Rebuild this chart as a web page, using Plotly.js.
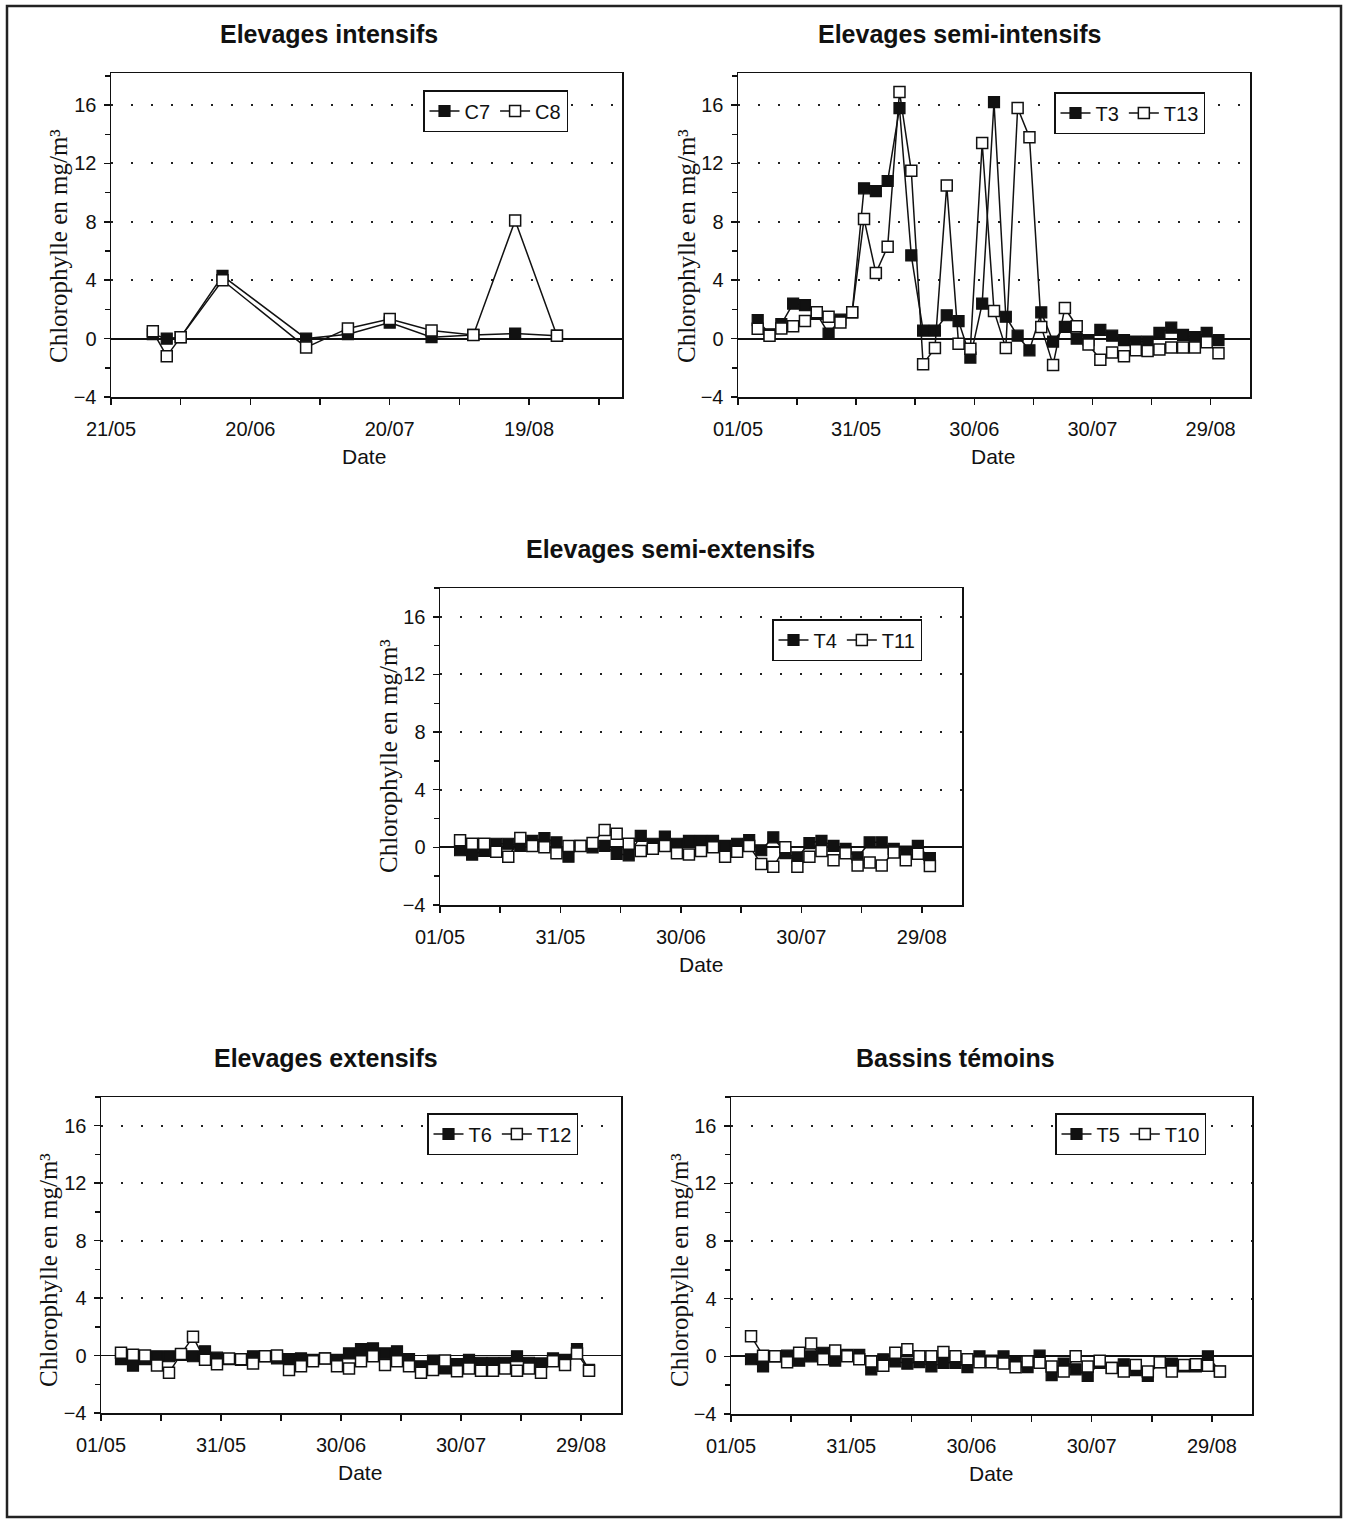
<!DOCTYPE html>
<html>
<head>
<meta charset="utf-8">
<script src="https://cdn.plot.ly/plotly-3.0.1.min.js"></script>
<style>html,body{margin:0;padding:0;background:#fff;}#chart{width:1348px;height:1520px;}</style>
</head>
<body>
<div id="chart"></div>
<script>
// ---------- DATA ----------
const panelTitles = ["Elevages intensifs", "Elevages semi-intensifs", "Elevages semi-extensifs", "Elevages extensifs", "Bassins témoins"];
const tickFormat = "%d/%m";

// Elevages intensifs
const datesIntensifs = ["1996-05-30","1996-06-02","1996-06-05","1996-06-14","1996-07-02","1996-07-11","1996-07-20","1996-07-29","1996-08-07","1996-08-16","1996-08-25"];
const C7 = [0.3, 0.0, 0.1, 4.3, 0.0, 0.3, 1.1, 0.1, 0.25, 0.35, 0.2];
const C8 = [0.5, -1.2, 0.1, 4.0, -0.6, 0.7, 1.35, 0.55, 0.25, 8.1, 0.2];

// sampling dates of the other ponds
const datesSuivi = ["1996-05-06","1996-05-09","1996-05-12","1996-05-15","1996-05-18","1996-05-21","1996-05-24","1996-05-27","1996-05-30",
  "1996-06-02","1996-06-05","1996-06-08","1996-06-11","1996-06-14","1996-06-17","1996-06-20","1996-06-23","1996-06-26","1996-06-29",
  "1996-07-02","1996-07-05","1996-07-08","1996-07-11","1996-07-14","1996-07-17","1996-07-20","1996-07-23","1996-07-26","1996-07-29",
  "1996-08-01","1996-08-04","1996-08-07","1996-08-10","1996-08-13","1996-08-16","1996-08-19","1996-08-22","1996-08-25","1996-08-28","1996-08-31"];

// Elevages semi-intensifs
const T3  = [1.27, 0.3, 1.0, 2.4, 2.3, 1.7, 0.35, 1.3, 1.8, 10.3, 10.1, 10.8, 15.8, 5.7, 0.55, 0.55, 1.6, 1.2, -1.3, 2.4,
             16.2, 1.5, 0.2, -0.8, 1.8, -0.2, 0.8, 0.0, -0.1, 0.6, 0.2, -0.1, -0.2, -0.2, 0.4, 0.75, 0.25, 0.1, 0.4, -0.1];
const T13 = [0.67, 0.2, 0.7, 0.85, 1.2, 1.8, 1.5, 1.1, 1.8, 8.2, 4.5, 6.3, 16.9, 11.5, -1.75, -0.65, 10.5, -0.35, -0.7, 13.4,
             1.9, -0.65, 15.8, 13.8, 0.8, -1.8, 2.1, 0.85, -0.4, -1.45, -0.95, -1.2, -0.8, -0.85, -0.75, -0.6, -0.6, -0.6, -0.25, -1.0];

// Elevages semi-extensifs
const T4  = [-0.2, -0.5, -0.25, 0.25, 0.25, 0.1, 0.45, 0.65, 0.35, -0.65, 0.1, 0.0, 0.1, -0.45, -0.55, 0.8, 0.25, 0.75, 0.25, 0.45,
             0.45, 0.45, 0.1, 0.25, 0.5, -0.2, 0.7, -0.4, -0.7, 0.3, 0.45, 0.1, -0.1, -0.7, 0.35, 0.35, -0.1, -0.3, 0.1, -0.75];
const T11 = [0.5, 0.25, 0.25, -0.3, -0.65, 0.65, 0.1, 0.0, -0.4, 0.1, 0.1, 0.3, 1.2, 0.95, 0.25, -0.25, -0.1, 0.1, -0.4, -0.5,
             -0.25, 0.0, -0.65, -0.3, 0.1, -1.15, -1.35, 0.0, -1.35, -0.65, -0.25, -0.9, -0.4, -1.25, -1.05, -1.25, -0.35, -0.9, -0.45, -1.3];

// Elevages extensifs
const T6  = [-0.25, -0.7, -0.25, -0.05, -0.05, 0.05, -0.05, 0.3, -0.15, -0.25, -0.3, -0.05, -0.05, -0.2, -0.25, -0.2, -0.3, -0.2, -0.3, 0.15,
             0.45, 0.5, 0.15, 0.3, -0.25, -0.75, -0.35, -0.9, -0.6, -0.3, -0.5, -0.5, -0.5, -0.05, -0.5, -0.55, -0.2, -0.3, 0.45, -1.0];
const T12 = [0.2, 0.05, 0.0, -0.7, -1.2, 0.1, 1.3, -0.3, -0.6, -0.2, -0.25, -0.55, -0.05, 0.0, -1.0, -0.75, -0.4, -0.2, -0.75, -0.9,
             -0.4, -0.05, -0.65, -0.4, -0.75, -1.2, -1.0, -0.35, -1.1, -0.9, -1.05, -1.05, -0.9, -1.05, -0.9, -1.2, -0.4, -0.65, 0.15, -1.05];

// Bassins témoins
const T5  = [-0.2, -0.7, 0.0, 0.05, -0.3, 0.0, 0.25, -0.3, 0.1, 0.1, -0.9, -0.2, -0.35, -0.5, -0.4, -0.7, -0.45, -0.45, -0.75, 0.0,
             -0.3, 0.0, -0.4, -0.75, 0.05, -1.3, -0.5, -0.9, -1.35, -0.45, -0.8, -0.55, -0.95, -1.35, -0.4, -0.5, -0.7, -0.7, 0.0, -1.05];
const T10 = [1.4, 0.05, 0.0, -0.4, 0.25, 0.9, -0.2, 0.4, 0.0, -0.2, -0.35, -0.65, 0.25, 0.5, 0.0, 0.0, 0.3, 0.0, -0.2, -0.4,
             -0.4, -0.5, -0.75, -0.35, -0.45, -0.7, -1.05, 0.0, -0.7, -0.3, -0.8, -1.05, -0.6, -1.05, -0.4, -1.05, -0.6, -0.55, -0.65, -1.05];

const yTitle = "Chlorophylle en mg/m³";
const xTitle = "Date";

// ---------- BUILD ----------
const W = 1348, H = 1520;
const px = v => v / W;
const py = v => 1 - v / H;

const DAY = 86400000;
const panels = [
  {x: datesIntensifs, a: C7, b: C8, na: "C7", nb: "C8", box: [111, 622, 73, 397], yr: [-4, 18.2], t0: "1996-05-21", xr: ["1996-05-21", "1996-09-08"],
   title: [329, 34], xt: [364, 456], yt: [58, 246], leg: [568, 90]},
  {x: datesSuivi, a: T3, b: T13, na: "T3", nb: "T13", box: [738, 1250, 73, 397], yr: [-4, 18.2], t0: "1996-05-01", xr: ["1996-05-01", "1996-09-08"],
   title: [959, 34], xt: [993, 456], yt: [686, 246], leg: [1205, 92]},
  {x: datesSuivi, a: T4, b: T11, na: "T4", nb: "T11", box: [440, 962, 588, 905], yr: [-4, 18], t0: "1996-05-01", xr: ["1996-05-01", "1996-09-08"],
   title: [670, 549], xt: [701, 964], yt: [388, 756], leg: [922, 619]},
  {x: datesSuivi, a: T6, b: T12, na: "T6", nb: "T12", box: [101, 621, 1097, 1413], yr: [-4, 18], t0: "1996-05-01", xr: ["1996-05-01", "1996-09-08"],
   title: [326, 1058], xt: [360, 1472], yt: [48, 1270], leg: [578, 1113]},
  {x: datesSuivi, a: T5, b: T10, na: "T5", nb: "T10", box: [731, 1252, 1097, 1414], yr: [-4, 18], t0: "1996-05-01", xr: ["1996-05-01", "1996-09-08"],
   title: [956, 1058], xt: [991, 1473], yt: [679, 1270], leg: [1206, 1113]}
];

const traces = [];
const layout = {
  width: W, height: H,
  margin: {l: 0, r: 0, t: 0, b: 0},
  paper_bgcolor: "#ffffff", plot_bgcolor: "#ffffff",
  font: {family: "Liberation Sans, Arial, sans-serif", size: 20, color: "#111"},
  showlegend: true,
  annotations: [],
  shapes: [{type: "rect", xref: "paper", yref: "paper", x0: px(7), x1: px(1341), y0: py(6), y1: py(1517),
            line: {color: "#222", width: 2.5}, fillcolor: "rgba(0,0,0,0)", layer: "below"}]
};

panels.forEach((p, i) => {
  const n = i + 1;
  const sfx = n === 1 ? "" : String(n);
  const legName = n === 1 ? "legend" : "legend" + n;
  const xa = "x" + sfx, ya = "y" + sfx;
  const line = {color: "#111", width: 1.5};
  traces.push({
    type: "scatter", mode: "lines+markers", x: p.x, y: p.a, name: p.na, xaxis: xa, yaxis: ya, legend: legName,
    line: line, marker: {symbol: "square", size: 11, color: "#111", line: {color: "#111", width: 1.2}}
  });
  traces.push({
    type: "scatter", mode: "lines+markers", x: p.x, y: p.b, name: p.nb, xaxis: xa, yaxis: ya, legend: legName,
    line: line, marker: {symbol: "square", size: 11, color: "#ffffff", line: {color: "#111", width: 1.5}}
  });

  layout["xaxis" + sfx] = {
    type: "date", domain: [px(p.box[0]), px(p.box[1])], anchor: ya, range: p.xr,
    tick0: p.t0, dtick: 30 * DAY, tickformat: tickFormat,
    ticks: "outside", ticklen: 6, tickwidth: 1.5, tickcolor: "#111",
    minor: {tick0: p.t0, dtick: 15 * DAY, ticks: "outside", ticklen: 6, tickwidth: 1.5, tickcolor: "#111", showgrid: false},
    showline: true, mirror: true, linecolor: "#111", linewidth: 1.5,
    showgrid: false, zeroline: false, ticklabelstandoff: 7,
    tickfont: {size: 20, color: "#111"}, fixedrange: true
  };
  layout["yaxis" + sfx] = {
    domain: [py(p.box[3]), py(p.box[2])], anchor: xa, range: p.yr,
    tick0: 0, dtick: 4, ticks: "outside", ticklen: 6, tickwidth: 1.5, tickcolor: "#111",
    minor: {dtick: 2, ticks: "outside", ticklen: 5, tickwidth: 1.5, tickcolor: "#111", showgrid: false},
    showline: true, mirror: true, linecolor: "#111", linewidth: 1.5,
    showgrid: true, gridcolor: "#222", gridwidth: 2, griddash: "2px,18px",
    zeroline: true, zerolinecolor: "#111", zerolinewidth: 1.8,
    ticklabelstandoff: 3, tickfont: {size: 20, color: "#111"}, fixedrange: true
  };
  layout[legName] = {
    x: px(p.leg[0]), y: py(p.leg[1]), xanchor: "right", yanchor: "top", xref: "paper", yref: "paper",
    orientation: "h", bgcolor: "#ffffff", bordercolor: "#111", borderwidth: 1.5,
    font: {size: 20, color: "#111"}, itemwidth: 30, tracegroupgap: 0
  };

  layout.annotations.push({
    text: panelTitles[i], xref: "paper", yref: "paper", x: px(p.title[0]), y: py(p.title[1]),
    xanchor: "center", yanchor: "middle", showarrow: false,
    font: {size: 25, color: "#111", family: "Liberation Sans, Arial, sans-serif", weight: "bold"}
  });
  layout.annotations.push({
    text: xTitle, xref: "paper", yref: "paper", x: px(p.xt[0]), y: py(p.xt[1]),
    xanchor: "center", yanchor: "middle", showarrow: false,
    font: {size: 21, color: "#111"}
  });
  layout.annotations.push({
    text: yTitle, xref: "paper", yref: "paper", x: px(p.yt[0]), y: py(p.yt[1]),
    xanchor: "center", yanchor: "middle", showarrow: false, textangle: -90,
    font: {size: 25, color: "#111", family: "Liberation Serif, Times New Roman, serif"}
  });
});

Plotly.newPlot("chart", traces, layout, {staticPlot: true, displayModeBar: false});
</script>
</body>
</html>
